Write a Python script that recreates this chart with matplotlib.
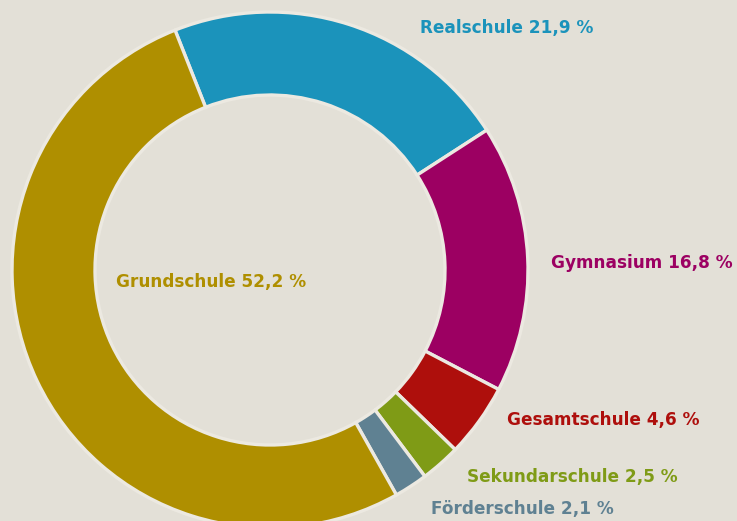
import matplotlib
matplotlib.use("Agg")
import matplotlib.pyplot as plt

# Share of pupils by school type (percent)
categories = ["Realschule", "Gymnasium", "Gesamtschule", "Sekundarschule", "Förderschule", "Grundschule"]
shares = [21.9, 16.8, 4.6, 2.5, 2.1, 52.2]
labels = ["Realschule 21,9 %", "Gymnasium 16,8 %", "Gesamtschule 4,6 %",
          "Sekundarschule 2,5 %", "Förderschule 2,1 %", "Grundschule 52,2 %"]
colors = ["#1b93bb", "#9c0062", "#ae0f0c", "#7f9b16", "#5f8192", "#af8f00"]

bg = "#e3e0d7"
W, H = 737, 521

fig = plt.figure(figsize=(W / 100, H / 100), dpi=100, facecolor=bg)
ax = fig.add_axes([0, 0, 1, 1])
ax.set_facecolor(bg)

cx, cy, r = 270, H - 270, 258
ax.pie(shares, colors=colors, startangle=111.6, counterclock=False,
       center=(cx, cy), radius=r, frame=True,
       wedgeprops=dict(width=83, edgecolor="#ece9e1", linewidth=2.4))
ax.set_xlim(0, W)
ax.set_ylim(0, H)
ax.set_aspect("equal")
ax.axis("off")

# label anchor points (left edge, vertical centre) in pixel space
label_pos = [(420, 28), (551, 263), (507, 420), (467, 477), (431, 509), (116, 282)]
for text, col, (x, y) in zip(labels, colors, label_pos):
    ax.text(x, H - y, text, color=col, fontsize=12.2, fontweight="bold",
            family="DejaVu Sans", ha="left", va="center")

fig.savefig("out.png", dpi=100, facecolor=bg)
